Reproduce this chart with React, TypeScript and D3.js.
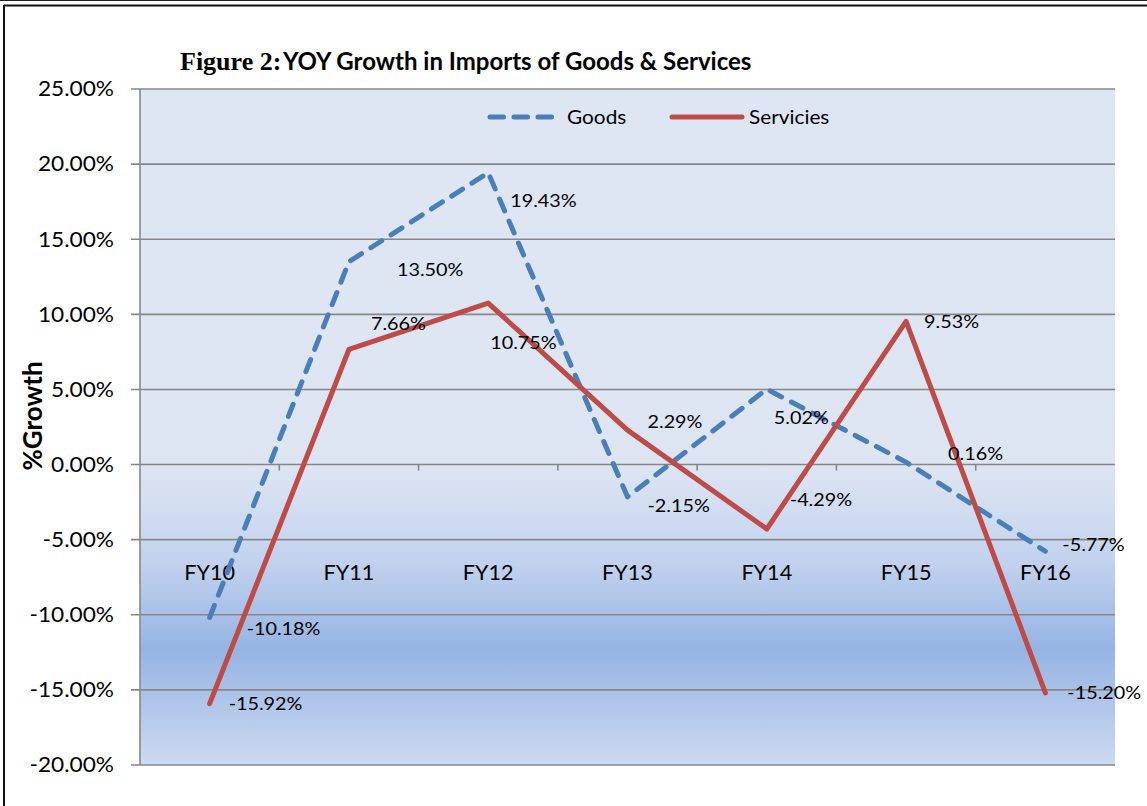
import * as d3 from "d3";
import React from "react";

// chart data
const categories = ["FY10", "FY11", "FY12", "FY13", "FY14", "FY15", "FY16"];
const goods = [-10.18, 13.5, 19.43, -2.15, 5.02, 0.16, -5.77];
const services = [-15.92, 7.66, 10.75, 2.29, -4.29, 9.53, -15.2];
const yTicks = [-20, -15, -10, -5, 0, 5, 10, 15, 20, 25];

const series = [
  { name: "Goods", values: goods, color: "#4a7ebb", dashed: true },
  { name: "Servicies", values: services, color: "#be4b48", dashed: false },
];

// manual label nudges (px, relative to each point), as in the original chart
const labelNudge: Record<string, [number, number][]> = {
  Goods: [[37, 11], [48, 8], [22, 28], [20, 9], [7, 29], [42, -8], [17, -7]],
  Servicies: [[19, 0], [22, -26], [2, 40], [20, -8], [23, -29], [18, 0], [22, 0]],
};

const W = 1147;
const H = 806;
const margin = { top: 89, right: 32, bottom: 41, left: 140 };
const sans = "Lato, 'Open Sans', sans-serif";
const dash = "13 11";

// text that is a bit wider than Lato, to mimic the original's rendering
function WideText({
  x,
  y,
  sx = 1.1,
  anchor = "start",
  size,
  children,
}: {
  x: number;
  y: number;
  sx?: number;
  anchor?: "start" | "middle" | "end";
  size: number;
  children: React.ReactNode;
}) {
  return (
    <text
      transform={`translate(${x},${y}) scale(${sx},1)`}
      dy="0.35em"
      textAnchor={anchor}
      fontFamily={sans}
      fontSize={size}
      fill="#000"
    >
      {children}
    </text>
  );
}

export default function App(): React.ReactElement {
  const x = d3
    .scalePoint<string>()
    .domain(categories)
    .range([margin.left, W - margin.right])
    .padding(0.5);
  const y = d3
    .scaleLinear()
    .domain([-20, 25])
    .range([H - margin.bottom, margin.top]);

  const step = x.step();
  const line = d3
    .line<number>()
    .x((_, i) => x(categories[i]) ?? 0)
    .y((d) => y(d));

  const fmt = (v: number) => `${v.toFixed(2)}%`;
  const plotW = W - margin.left - margin.right;
  const plotH = H - margin.top - margin.bottom;

  return (
    <svg
      width={W}
      height={H}
      style={{ position: "absolute", left: 0, top: 0, background: "#fff" }}
    >
      <defs>
        <linearGradient id="bg" x1="0" y1="0" x2="0" y2="1">
          <stop offset="0" stopColor="#dfe6f3" />
          <stop offset="0.56" stopColor="#dde5f3" />
          <stop offset="0.7" stopColor="#c2d2ee" />
          <stop offset="0.83" stopColor="#96b4e3" />
          <stop offset="1" stopColor="#cddaf1" />
        </linearGradient>
      </defs>

      {/* outer frame */}
      <line x1={0} x2={W} y1={0.5} y2={0.5} stroke="#222" strokeWidth={1} />
      <line x1={4} x2={W} y1={5.5} y2={5.5} stroke="#111" strokeWidth={2} />
      <line x1={4} x2={4} y1={5} y2={H} stroke="#111" strokeWidth={2} />

      {/* plot area */}
      <rect
        x={margin.left}
        y={margin.top}
        width={plotW}
        height={plotH}
        fill="url(#bg)"
      />

      {/* gridlines + y axis */}
      {yTicks.map((t) => (
        <g key={`yt-${t}`}>
          <line
            x1={margin.left - 9}
            x2={W - margin.right}
            y1={y(t)}
            y2={y(t)}
            stroke="#878787"
            strokeWidth={1.6}
          />
          <WideText x={114} y={y(t)} anchor="end" size={21} sx={1.08}>
            {t.toFixed(2)}%
          </WideText>
        </g>
      ))}
      <line
        x1={margin.left}
        x2={margin.left}
        y1={margin.top}
        y2={H - margin.bottom}
        stroke="#878787"
        strokeWidth={1.6}
      />

      {/* category tick marks on zero line */}
      {d3.range(1, categories.length).map((k) => (
        <line
          key={`ct-${k}`}
          x1={margin.left + k * step}
          x2={margin.left + k * step}
          y1={y(0)}
          y2={y(0) + 6}
          stroke="#878787"
          strokeWidth={1.6}
        />
      ))}

      {/* category labels */}
      {categories.map((c) => (
        <WideText key={c} x={x(c) ?? 0} y={y(-7.2)} anchor="middle" size={21} sx={1.03}>
          {c}
        </WideText>
      ))}

      {/* series lines */}
      {series.map((s) => (
        <path
          key={s.name}
          d={line(s.values) ?? ""}
          fill="none"
          stroke={s.color}
          strokeWidth={5}
          strokeLinecap="round"
          strokeLinejoin="round"
          strokeDasharray={s.dashed ? dash : undefined}
        />
      ))}

      {/* data labels */}
      {series.map((s) =>
        s.values.map((v, i) => (
          <WideText
            key={`${s.name}-${i}`}
            x={(x(categories[i]) ?? 0) + labelNudge[s.name][i][0]}
            y={y(v) + labelNudge[s.name][i][1]}
            size={18}
            sx={1.1}
          >
            {fmt(v)}
          </WideText>
        )),
      )}

      {/* legend */}
      {series.map((s, i) => {
        const lx = i === 0 ? 490 : 672;
        const len = i === 0 ? 62 : 70;
        return (
          <g key={`leg-${s.name}`}>
            <line
              x1={lx}
              x2={lx + len}
              y1={117}
              y2={117}
              stroke={s.color}
              strokeWidth={5}
              strokeLinecap="round"
              strokeDasharray={s.dashed ? "13.5 10.5" : undefined}
            />
            <WideText x={i === 0 ? 567 : 749} y={117} size={20} sx={1.04}>
              {s.name}
            </WideText>
          </g>
        );
      })}

      {/* title */}
      <text x={180} y={70} fontWeight="bold" fill="#000">
        <tspan fontFamily="'Liberation Serif', serif" fontSize={26}>
          Figure 2:
        </tspan>
        <tspan x={283} fontFamily={sans} fontSize={24}>
          YOY Growth in Imports of Goods &amp; Services
        </tspan>
      </text>

      {/* y axis title */}
      <text
        transform="translate(42,416) rotate(-90)"
        textAnchor="middle"
        fontFamily={sans}
        fontWeight="bold"
        fontSize={26}
        fill="#000"
      >
        %Growth
      </text>
    </svg>
  );
}
